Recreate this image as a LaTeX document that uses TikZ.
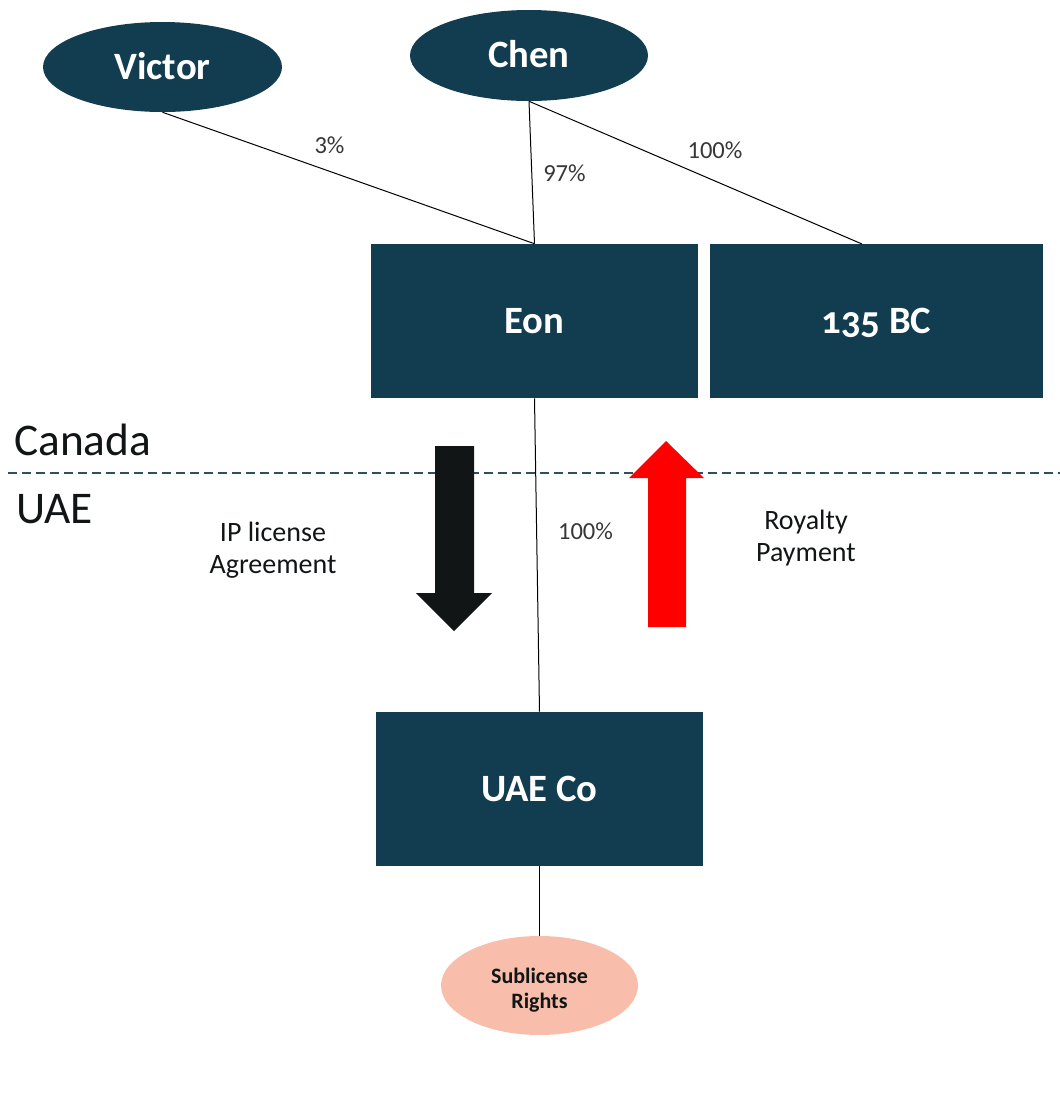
\documentclass[tikz,border=0pt]{standalone}
\usepackage{fontspec}
\setmainfont{Carlito}
\newfontfamily\oldnums{Carlito}[Numbers=OldStyle]
\usetikzlibrary{shapes.geometric}

\definecolor{navy}{RGB}{18,61,80}
\definecolor{salmon}{RGB}{248,190,171}
\definecolor{inkblack}{RGB}{17,21,22}
\definecolor{pctgray}{RGB}{55,55,55}
\definecolor{borderdash}{RGB}{47,79,95}

\begin{document}
\begin{tikzpicture}[x=0.75pt,y=-0.75pt,
  owner/.style={ellipse, fill=navy, text=white, inner sep=0pt,
    font=\fontsize{29}{34}\selectfont\bfseries, text height=18.7pt, text depth=0pt},
  entity/.style={rectangle, fill=navy, text=white, inner sep=0pt,
    minimum width=245.25pt, minimum height=115.5pt,
    font=\fontsize{29}{34}\selectfont\bfseries, text height=18.7pt, text depth=0pt},
  link/.style={draw=black, line width=0.75pt},
  pct/.style={font=\fontsize{18.4}{22}\selectfont, text=pctgray, inner sep=0pt, anchor=base},
  flowlabel/.style={font=\fontsize{21}{24}\selectfont, text=inkblack, align=center, inner sep=0pt},
  region/.style={font=\fontsize{34}{40}\selectfont, text=inkblack, inner sep=0pt, anchor=base west}
]
\useasboundingbox (0,0) rectangle (1060,1101);

% border between the two jurisdictions
\draw[borderdash, line width=1.5pt, dash pattern=on 6.75pt off 3.75pt] (8,473) -- (1060,473);

% shareholders
\node[owner, minimum width=179.25pt, minimum height=67.5pt] (victor) at (162.5,67) {Victor};
\node[owner, minimum width=178.5pt, minimum height=68.25pt] (chen) at (529,55.5) {Chen};

% companies
\node[entity] (eon) at (534.5,321) {Eon};
\node[entity, minimum width=249.75pt] (bc) at (876.5,321) {{\oldnums 135} BC};
\node[entity] (uae) at (539.5,789) {UAE Co};

% sublicense
\node[ellipse, fill=salmon, inner sep=0pt, minimum width=147.75pt, minimum height=74.25pt] (subl) at (539.5,985.5) {};
\node[font=\fontsize{16.5}{19}\selectfont\bfseries, text=inkblack, align=center, inner sep=0pt] (subltext) at (539.5,990) {Sublicense\\Rights};

% ownership links
\coordinate (bcin) at (862,244);
\draw[link] (victor.south) -- (eon.north);
\draw[link] (chen.south) -- (eon.north);
\draw[link] (chen.south) -- (bcin);
\draw[link] (eon.south) -- (uae.north);
\draw[link] (uae.south) -- (subl.north);

% ownership percentages
\node[pct] (p3) at (329.5,153) {3\%};
\node[pct] (p97) at (564.5,181) {97\%};
\node[pct] (p100a) at (715,158) {100\%};
\node[pct] (p100b) at (585.5,539) {100\%};

% jurisdictions
\node[region] (canada) at (14,455) {Canada};
\node[region] (uaeland) at (16,523) {UAE};

% flows
\fill[inkblack] (435,446) -- (474,446) -- (474,593) -- (492,593) -- (454,631) -- (416,593) -- (435,593) -- cycle;
\fill[red] (648,627) -- (686,627) -- (686,478) -- (704,478) -- (666,441) -- (629,478) -- (648,478) -- cycle;
\node[flowlabel] (iplic) at (273,550) {IP license\\Agreement};
\node[flowlabel] (royal) at (806,538) {Royalty\\Payment};
\end{tikzpicture}
\end{document}
